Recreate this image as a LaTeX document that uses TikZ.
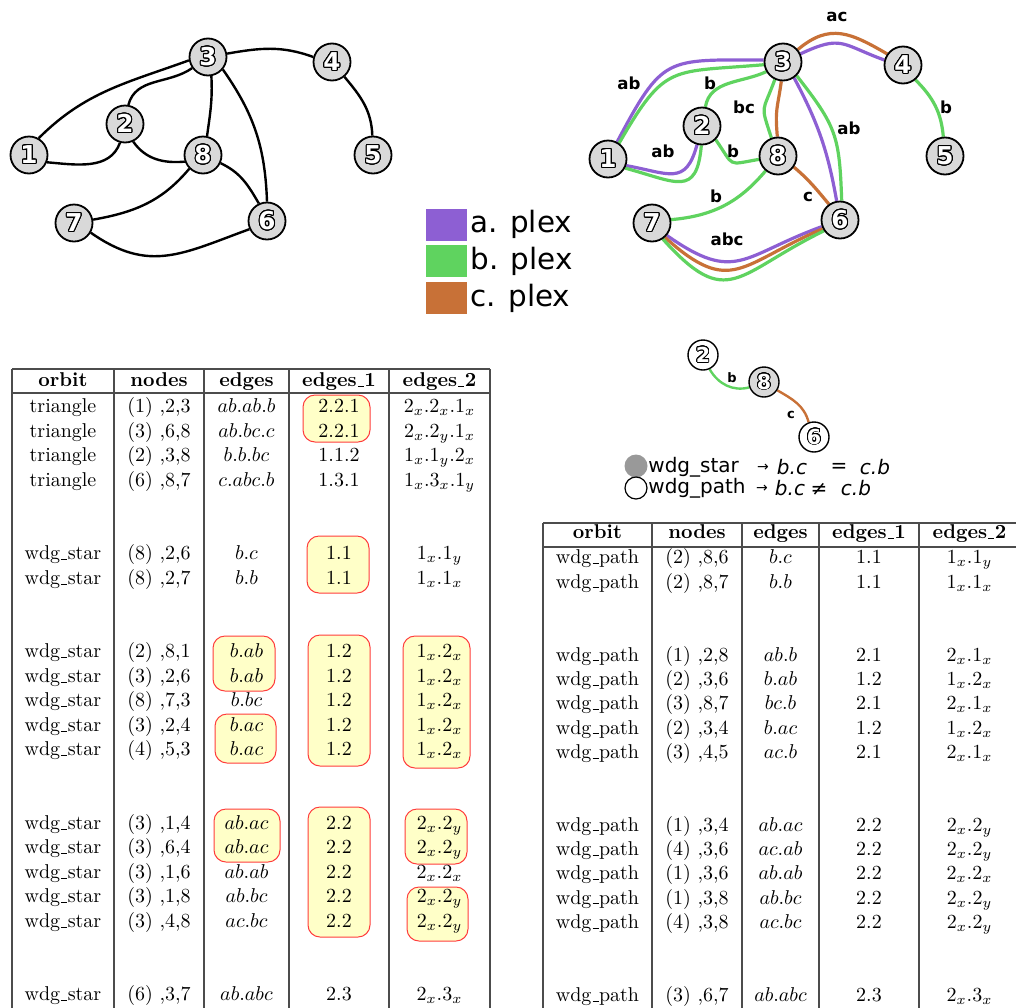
\documentclass[tikz,border=0pt]{standalone}
\usepackage{fontspec}
\usepackage{contour}
\usetikzlibrary{backgrounds}
\newfontfamily\djv{DejaVu Sans}
\contourlength{0.5pt}
\contournumber{24}
\definecolor{cpur}{HTML}{8D5FD3}
\definecolor{cgrn}{HTML}{5FD35F}
\definecolor{cbrn}{HTML}{C87137}
\definecolor{hlfill}{RGB}{255,255,200}
\definecolor{hlline}{RGB}{255,60,60}
\newcommand{\dg}[1]{\textcolor{white}{\contour{black}{#1}}}
\newcommand{\us}{\leavevmode\kern.06em\vbox{\hrule width.3em}\kern.02em}
\tikzset{
 gnode/.style={circle, draw=black, line width=0.9pt, fill=gray!30, minimum size=18.5pt, inner sep=0pt, font=\djv\bfseries\fontsize{12.3}{13}\selectfont},
 snode/.style={circle, draw=black, line width=0.7pt, fill=white, minimum size=15pt, inner sep=0pt, font=\djv\bfseries\fontsize{10.3}{11}\selectfont},
 eblk/.style={line width=1.2pt, black},
 epur/.style={line width=1.6pt, cpur},
 egrn/.style={line width=1.6pt, cgrn},
 ebrn/.style={line width=1.6pt, cbrn},
 elbl/.style={font=\djv\bfseries\fontsize{8.3}{9}\selectfont, inner sep=0pt},
 cell/.style={inner sep=0pt, text height=6.9pt, text depth=2pt, font=\fontsize{10}{12}\selectfont},
 hcell/.style={cell, font=\fontsize{10}{12}\selectfont\bfseries},
 hl/.style={draw=hlline, fill=hlfill, line width=0.5pt, rounded corners=6pt},
 tline/.style={black!70, line width=0.55pt},
 legtxt/.style={anchor=west, inner sep=0pt, font=\djv\fontsize{14.7}{15}\selectfont},
 smtxt/.style={inner sep=0pt, font=\djv\fontsize{10}{11}\selectfont},
 smit/.style={inner sep=0pt, font=\djv\itshape\fontsize{10}{11}\selectfont},
 smar/.style={inner sep=0pt, font=\djv\fontsize{7}{8}\selectfont},
}
\newcommand{\lrow}[6]{%
 \pgfmathsetmacro{\yy}{-(408+24.5*#1)}%
 \node[cell] (L#1o) at (63,\yy) {#2};
 \node[cell] (L#1n) at (159,\yy) {#3};
 \node[cell] (L#1e) at (246.5,\yy) {$#4$};
 \node[cell] (L#1f) at (339,\yy) {#5};
 \node[cell] (L#1g) at (439.5,\yy) {$#6$};
}
\newcommand{\rrow}[6]{%
 \pgfmathsetmacro{\yy}{-(559+24.3*#1)}%
 \node[cell] (R#1o) at (597.5,\yy) {#2};
 \node[cell] (R#1n) at (697,\yy) {#3};
 \node[cell] (R#1e) at (780.5,\yy) {$#4$};
 \node[cell] (R#1f) at (869,\yy) {#5};
 \node[cell] (R#1g) at (969.5,\yy) {$#6$};
}
\begin{document}
\begin{tikzpicture}[x=0.5pt,y=0.5pt]
\useasboundingbox (0,0) rectangle (1016,-1007);

% ---------- top-left graph ----------
\node[gnode] (a1) at (29,-155) {\dg{1}};
\node[gnode] (a2) at (125,-124) {\dg{2}};
\node[gnode] (a3) at (208,-57) {\dg{3}};
\node[gnode] (a4) at (332,-62) {\dg{4}};
\node[gnode] (a5) at (373,-155) {\dg{5}};
\node[gnode] (a6) at (267,-221) {\dg{6}};
\node[gnode] (a7) at (74,-223) {\dg{7}};
\node[gnode] (a8) at (203,-155) {\dg{8}};
\begin{pgfonlayer}{background}
\draw[eblk] (a3.10) to[out=10,in=160] (a4.165);
\draw[eblk] (a3.190) to[out=200,in=45] (a1.60);
\draw[eblk] (a3.215) to[out=215,in=75] (a2.80);
\draw[eblk] (a3.-80) to[out=-87,in=82] (a8.78);
\draw[eblk] (a3.-40) to[out=-55,in=92] (a6.90);
\draw[eblk] (a4.-50) to[out=-50,in=92] (a5.92);
\draw[eblk] (a1.-22) to[out=-5,in=-110] (a2.-105);
\draw[eblk] (a2.-65) to[out=-55,in=185] (a8.200);
\draw[eblk] (a8.-135) to[out=-130,in=10] (a7.10);
\draw[eblk] (a8.-25) to[out=-25,in=120] (a6.115);
\draw[eblk] (a7.-30) to[out=-35,in=200,looseness=1.15] (a6.205);
\end{pgfonlayer}

% ---------- top-right graph ----------
\node[gnode] (b1) at (608,-159) {\dg{1}};
\node[gnode] (b2) at (702,-126) {\dg{2}};
\node[gnode] (b3) at (783,-62) {\dg{3}};
\node[gnode] (b4) at (903,-65) {\dg{4}};
\node[gnode] (b5) at (945,-156) {\dg{5}};
\node[gnode] (b6) at (840,-220) {\dg{6}};
\node[gnode] (b7) at (652,-223) {\dg{7}};
\node[gnode] (b8) at (778,-156) {\dg{8}};
\begin{pgfonlayer}{background}
\draw[ebrn] (b3.40) to[out=40,in=150,looseness=1.2] (b4.145);
\draw[epur] (b3.25) to[out=25,in=160,looseness=1.4] (b4.165);
\draw[epur] (b1.62) to[out=62,in=180,looseness=1.5] (b3.174);
\draw[egrn] (b1.55) to[out=60,in=185,looseness=1.45] (b3.188);
\draw[egrn] (b2.80) to[out=80,in=205] (b3.210);
\draw[egrn] (b3.245) to[out=250,in=108,looseness=1.6] (b8.110);
\draw[ebrn] (b3.265) to[out=262,in=95,looseness=1.3] (b8.92);
\draw[epur] (b3.-55) to[out=-62,in=100] (b6.100);
\draw[egrn] (b3.-45) to[out=-52,in=92,looseness=1.25] (b6.85);
\draw[egrn] (b4.-50) to[out=-45,in=95] (b5.95);
\draw[epur] (b1.-20) to[out=-10,in=-105,looseness=1.5] (b2.-105);
\draw[egrn] (b1.-28) to[out=-15,in=-95,looseness=1.7] (b2.-92);
\draw[egrn] (b2.-45) to[out=-55,in=190,looseness=1.8] (b8.190);
\draw[egrn] (b8.-130) to[out=-130,in=5] (b7.10);
\draw[ebrn] (b8.-35) to[out=-40,in=130] (b6.125);
\draw[epur] (b7.-40) to[out=-35,in=200,looseness=1.4] (b6.200);
\draw[ebrn] (b7.-48) to[out=-42,in=203,looseness=1.45] (b6.207);
\draw[egrn] (b7.-56) to[out=-48,in=206,looseness=1.55] (b6.214);
\end{pgfonlayer}
\node[elbl] (l34) at (837,-17) {ac};
\node[elbl] (l13) at (629,-83) {ab};
\node[elbl] (l23) at (710,-83) {b};
\node[elbl] (l38) at (744,-107) {bc};
\node[elbl] (l36) at (849,-128) {ab};
\node[elbl] (l45) at (946,-107) {b};
\node[elbl] (l12) at (663,-151) {ab};
\node[elbl] (l28) at (733,-151) {b};
\node[elbl] (l87) at (716,-196) {b};
\node[elbl] (l86) at (808,-197) {c};
\node[elbl] (l76) at (727,-239) {abc};

% ---------- legend ----------
\fill[cpur] (426,-209) rectangle (467,-241);
\fill[cgrn] (426,-245) rectangle (467,-277);
\fill[cbrn] (426,-282) rectangle (467,-314);
\node[legtxt] (pa) at (470,-224) {a. plex};
\node[legtxt] (pb) at (470,-261) {b. plex};
\node[legtxt] (pc) at (470,-298) {c. plex};

% ---------- small graph ----------
\node[snode] (s2) at (703,-355) {\contourlength{0.4pt}\dg{2}};
\node[snode, fill=gray!30] (s8) at (764,-382) {\contourlength{0.4pt}\dg{8}};
\node[snode] (s6) at (814,-437) {\contourlength{0.4pt}\dg{6}};
\begin{pgfonlayer}{background}
\draw[cgrn, line width=1.2pt] (s2.-65) to[out=-60,in=195] (s8.200);
\draw[cbrn, line width=1.2pt] (s8.-32) to[out=-30,in=105] (s6.110);
\end{pgfonlayer}
\node[inner sep=0pt, font=\djv\bfseries\fontsize{6.5}{7}\selectfont] (sb) at (732,-378) {b};
\node[inner sep=0pt, font=\djv\bfseries\fontsize{6.5}{7}\selectfont] (sc) at (791,-415) {c};

\node[circle, fill=gray!80, minimum size=11.5pt, inner sep=0pt] (cst) at (636,-466) {};
\node[circle, draw=black, line width=0.6pt, fill=white, minimum size=11pt, inner sep=0pt] (cpa) at (636,-488) {};
\node[smtxt, anchor=west] (ws) at (648,-467) {wdg\_star};
\node[smtxt, anchor=west] (wp) at (648,-488) {wdg\_path};
\node[smar] (ar1) at (763,-468) {→};
\node[smit] (bc1) at (792,-467) {b.c};
\node[smtxt] (eq1) at (839,-468) {=};
\node[smit] (cb1) at (875,-467) {c.b};
\node[smar] (ar2) at (762,-489) {→};
\node[smit] (bc2) at (790,-488) {b.c};
\node[smtxt] (ne2) at (819,-489) {≠};
\node[smit] (cb2) at (856,-488) {c.b};

% ---------- left table ----------
\draw[hl] (303,-395) rectangle (370,-442);
\draw[hl] (307,-536) rectangle (369,-593);
\draw[hl] (213,-636) rectangle (275,-691);
\draw[hl] (215,-714) rectangle (276,-763);
\draw[hl] (308,-635) rectangle (370,-766);
\draw[hl] (403,-636) rectangle (470,-768);
\draw[hl] (214,-809) rectangle (280,-862);
\draw[hl] (308,-807) rectangle (370,-937);
\draw[hl] (405,-809) rectangle (467,-864);
\draw[hl] (407,-887) rectangle (468,-941);

\draw[tline] (12,-369) -- (490,-369);
\draw[tline] (12,-393) -- (490,-393);
\foreach \xx in {12,114,204,289,389,490} \draw[tline] (\xx,-369) -- (\xx,-1012);
\node[hcell] (LHo) at (63,-382) {orbit};
\node[hcell] (LHn) at (159,-382) {nodes};
\node[hcell] (LHe) at (246.5,-382) {edges};
\node[hcell] (LHf) at (339,-382) {edges\us1};
\node[hcell] (LHg) at (439.5,-382) {edges\us2};

\lrow{0}{triangle}{(1) ,2,3}{ab.ab.b}{2.2.1}{2_x.2_x.1_x}
\lrow{1}{triangle}{(3) ,6,8}{ab.bc.c}{2.2.1}{2_x.2_y.1_x}
\lrow{2}{triangle}{(2) ,3,8}{b.b.bc}{1.1.2}{1_x.1_y.2_x}
\lrow{3}{triangle}{(6) ,8,7}{c.abc.b}{1.3.1}{1_x.3_x.1_y}
\lrow{6}{wdg\us star}{(8) ,2,6}{b.c}{1.1}{1_x.1_y}
\lrow{7}{wdg\us star}{(8) ,2,7}{b.b}{1.1}{1_x.1_x}
\lrow{10}{wdg\us star}{(2) ,8,1}{b.ab}{1.2}{1_x.2_x}
\lrow{11}{wdg\us star}{(3) ,2,6}{b.ab}{1.2}{1_x.2_x}
\lrow{12}{wdg\us star}{(8) ,7,3}{b.bc}{1.2}{1_x.2_x}
\lrow{13}{wdg\us star}{(3) ,2,4}{b.ac}{1.2}{1_x.2_x}
\lrow{14}{wdg\us star}{(4) ,5,3}{b.ac}{1.2}{1_x.2_x}
\lrow{17}{wdg\us star}{(3) ,1,4}{ab.ac}{2.2}{2_x.2_y}
\lrow{18}{wdg\us star}{(3) ,6,4}{ab.ac}{2.2}{2_x.2_y}
\lrow{19}{wdg\us star}{(3) ,1,6}{ab.ab}{2.2}{2_x.2_x}
\lrow{20}{wdg\us star}{(3) ,1,8}{ab.bc}{2.2}{2_x.2_y}
\lrow{21}{wdg\us star}{(3) ,4,8}{ac.bc}{2.2}{2_x.2_y}
\lrow{24}{wdg\us star}{(6) ,3,7}{ab.abc}{2.3}{2_x.3_x}

% ---------- right table ----------
\draw[tline] (543,-523) -- (1020,-523);
\draw[tline] (543,-547) -- (1020,-547);
\foreach \xx in {543,652,742,819,919,1020} \draw[tline] (\xx,-523) -- (\xx,-1012);
\node[hcell] (RHo) at (597.5,-534) {orbit};
\node[hcell] (RHn) at (697,-534) {nodes};
\node[hcell] (RHe) at (780.5,-534) {edges};
\node[hcell] (RHf) at (869,-534) {edges\us1};
\node[hcell] (RHg) at (969.5,-534) {edges\us2};

\rrow{0}{wdg\us path}{(2) ,8,6}{b.c}{1.1}{1_x.1_y}
\rrow{1}{wdg\us path}{(2) ,8,7}{b.b}{1.1}{1_x.1_x}
\rrow{4}{wdg\us path}{(1) ,2,8}{ab.b}{2.1}{2_x.1_x}
\rrow{5}{wdg\us path}{(2) ,3,6}{b.ab}{1.2}{1_x.2_x}
\rrow{6}{wdg\us path}{(3) ,8,7}{bc.b}{2.1}{2_x.1_x}
\rrow{7}{wdg\us path}{(2) ,3,4}{b.ac}{1.2}{1_x.2_x}
\rrow{8}{wdg\us path}{(3) ,4,5}{ac.b}{2.1}{2_x.1_x}
\rrow{11}{wdg\us path}{(1) ,3,4}{ab.ac}{2.2}{2_x.2_y}
\rrow{12}{wdg\us path}{(4) ,3,6}{ac.ab}{2.2}{2_x.2_y}
\rrow{13}{wdg\us path}{(1) ,3,6}{ab.ab}{2.2}{2_x.2_x}
\rrow{14}{wdg\us path}{(1) ,3,8}{ab.bc}{2.2}{2_x.2_y}
\rrow{15}{wdg\us path}{(4) ,3,8}{ac.bc}{2.2}{2_x.2_y}
\rrow{18}{wdg\us path}{(3) ,6,7}{ab.abc}{2.3}{2_x.3_x}
\end{tikzpicture}
\end{document}
